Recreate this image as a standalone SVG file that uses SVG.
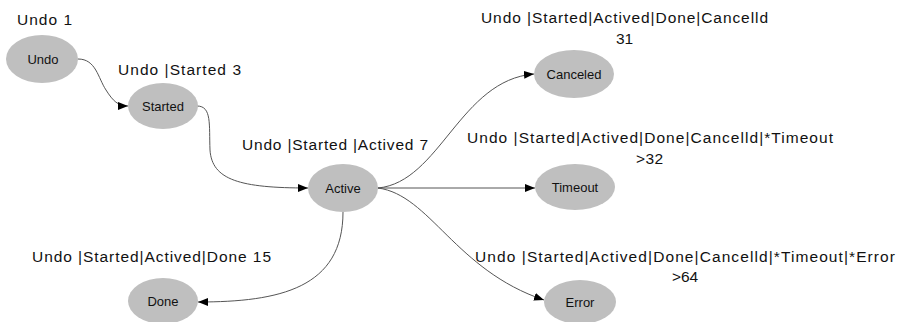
<svg xmlns="http://www.w3.org/2000/svg" width="899" height="322" viewBox="0 0 899 322">
<style>
.node{fill:#bfbfbf;stroke:none}
.nt{font-family:"Liberation Sans",Arial,sans-serif;font-size:13px;fill:#111;text-anchor:middle}
.lb{font-family:"Liberation Sans",Arial,sans-serif;font-size:15.5px;fill:#111}
.edge{fill:none;stroke:#555;stroke-width:1}
</style>
<defs>
<marker id="arr" viewBox="0 0 10 8" refX="10" refY="4" markerWidth="10" markerHeight="8" markerUnits="userSpaceOnUse" orient="auto">
<path d="M0,0 L10,4 L0,8 z" fill="#000"/>
</marker>
</defs>
<rect width="899" height="322" fill="#fff"/>
<g id="connectors">
<path class="edge" marker-end="url(#arr)" d="M78,59 C96,59 98,78 106,90 C113,101 118,106 128,106"/>
<path class="edge" marker-end="url(#arr)" d="M197,106 C212,106 209,125 210,150 C212,180 240,188 308,188"/>
<path class="edge" marker-end="url(#arr)" d="M378,188 C440,182 460,80 534,74"/>
<path class="edge" marker-end="url(#arr)" d="M378,188 L535,188"/>
<path class="edge" marker-end="url(#arr)" d="M378,188 C430,195 455,270 544,300"/>
<path class="edge" marker-end="url(#arr)" d="M343,212 C343,288 280,302 198,302"/>
</g>
<g id="node-undo">
<ellipse class="node" cx="42" cy="59" rx="36" ry="24"/>
<text class="nt" x="43" y="64">Undo</text>
<text class="lb" x="17" y="25" textLength="55">Undo  1</text>
</g>
<g id="node-started">
<ellipse class="node" cx="163" cy="106" rx="35" ry="23"/>
<text class="nt" x="163" y="111">Started</text>
<text class="lb" x="118" y="75" textLength="123">Undo |Started  3</text>
</g>
<g id="node-active">
<ellipse class="node" cx="343" cy="188" rx="35" ry="24"/>
<text class="nt" x="343" y="193">Active</text>
<text class="lb" x="242" y="150" textLength="186">Undo |Started |Actived 7</text>
</g>
<g id="node-canceled">
<ellipse class="node" cx="574" cy="74" rx="40" ry="24"/>
<text class="nt" x="574" y="79">Canceled</text>
<text class="lb" x="481" y="23" textLength="287">Undo |Started|Actived|Done|Cancelld</text>
<text class="lb" x="616" y="44" textLength="17">31</text>
</g>
<g id="node-timeout">
<ellipse class="node" cx="575" cy="187" rx="40" ry="23"/>
<text class="nt" x="575" y="192">Timeout</text>
<text class="lb" x="467" y="143" textLength="366">Undo |Started|Actived|Done|Cancelld|*Timeout</text>
<text class="lb" x="636" y="164" textLength="27">&gt;32</text>
</g>
<g id="node-error">
<ellipse class="node" cx="580" cy="302" rx="36" ry="22"/>
<text class="nt" x="580" y="307">Error</text>
<text class="lb" x="475" y="262" textLength="420">Undo |Started|Actived|Done|Cancelld|*Timeout|*Error</text>
<text class="lb" x="672" y="282" textLength="26">&gt;64</text>
</g>
<g id="node-done">
<ellipse class="node" cx="163" cy="301" rx="35" ry="23"/>
<text class="nt" x="163" y="306">Done</text>
<text class="lb" x="32" y="262" textLength="239">Undo |Started|Actived|Done 15</text>
</g>
</svg>
